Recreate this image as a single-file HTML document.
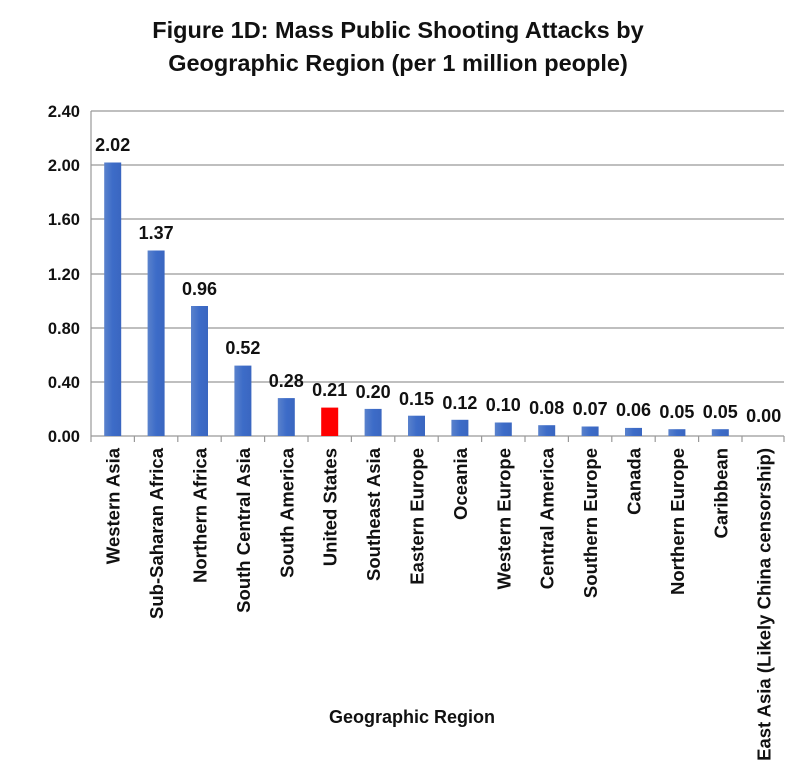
<!DOCTYPE html>
<html><head><style>body{margin:0;background:#fff}svg text{font-family:"Liberation Sans",sans-serif;font-weight:bold;fill:#111}</style></head>
<body>
<svg width="791" height="767" xmlns="http://www.w3.org/2000/svg">
<defs><linearGradient id="g" x1="0" x2="1"><stop offset="0" stop-color="#5a82cc"/><stop offset="0.5" stop-color="#3d6cc8"/><stop offset="1" stop-color="#3a66c0"/></linearGradient></defs>
<text x="398" y="38" font-size="23.5" text-anchor="middle">Figure 1D:  Mass Public Shooting Attacks by</text>
<text x="398" y="71" font-size="23.5" text-anchor="middle">Geographic Region (per 1 million people)</text>
<g stroke="#999" stroke-width="1.2">
<line x1="91" y1="111" x2="784" y2="111"/><line x1="91" y1="165" x2="784" y2="165"/><line x1="91" y1="219" x2="784" y2="219"/><line x1="91" y1="274" x2="784" y2="274"/><line x1="91" y1="328" x2="784" y2="328"/><line x1="91" y1="382" x2="784" y2="382"/><line x1="91" y1="436" x2="784" y2="436"/>
<line x1="91" y1="111" x2="91" y2="442"/>
<line x1="134.4" y1="436" x2="134.4" y2="442"/><line x1="177.8" y1="436" x2="177.8" y2="442"/><line x1="221.2" y1="436" x2="221.2" y2="442"/><line x1="264.6" y1="436" x2="264.6" y2="442"/><line x1="308" y1="436" x2="308" y2="442"/><line x1="351.4" y1="436" x2="351.4" y2="442"/><line x1="394.8" y1="436" x2="394.8" y2="442"/><line x1="438.2" y1="436" x2="438.2" y2="442"/><line x1="481.6" y1="436" x2="481.6" y2="442"/><line x1="525" y1="436" x2="525" y2="442"/><line x1="568.4" y1="436" x2="568.4" y2="442"/><line x1="611.8" y1="436" x2="611.8" y2="442"/><line x1="655.2" y1="436" x2="655.2" y2="442"/><line x1="698.6" y1="436" x2="698.6" y2="442"/><line x1="742" y1="436" x2="742" y2="442"/><line x1="784" y1="436" x2="784" y2="442"/>
</g>
<g font-size="16.5" text-anchor="end">
<text x="80" y="117">2.40</text><text x="80" y="171">2.00</text><text x="80" y="225">1.60</text><text x="80" y="280">1.20</text><text x="80" y="334">0.80</text><text x="80" y="388">0.40</text><text x="80" y="442">0.00</text>
</g>
<g fill="url(#g)">
<rect x="104.2" y="162.5" width="17" height="273.5"/>
<rect x="147.6" y="250.5" width="17" height="185.5"/>
<rect x="191" y="306" width="17" height="130"/>
<rect x="234.4" y="365.6" width="17" height="70.4"/>
<rect x="277.8" y="398.1" width="17" height="37.9"/>
<rect x="321.2" y="407.6" width="17" height="28.4" fill="#f00"/>
<rect x="364.6" y="408.9" width="17" height="27.1"/>
<rect x="408" y="415.7" width="17" height="20.3"/>
<rect x="451.4" y="419.8" width="17" height="16.2"/>
<rect x="494.8" y="422.5" width="17" height="13.5"/>
<rect x="538.2" y="425.2" width="17" height="10.8"/>
<rect x="581.6" y="426.5" width="17" height="9.5"/>
<rect x="625" y="427.9" width="17" height="8.1"/>
<rect x="668.4" y="429.2" width="17" height="6.8"/>
<rect x="711.8" y="429.2" width="17" height="6.8"/>
</g>
<g font-size="18" text-anchor="middle">
<text x="112.7" y="151">2.02</text>
<text x="156.1" y="239">1.37</text>
<text x="199.5" y="295">0.96</text>
<text x="242.9" y="354">0.52</text>
<text x="286.3" y="387">0.28</text>
<text x="329.7" y="396">0.21</text>
<text x="373.1" y="398">0.20</text>
<text x="416.5" y="405">0.15</text>
<text x="459.9" y="409">0.12</text>
<text x="503.3" y="411">0.10</text>
<text x="546.7" y="414">0.08</text>
<text x="590.1" y="415">0.07</text>
<text x="633.5" y="416">0.06</text>
<text x="676.9" y="418">0.05</text>
<text x="720.3" y="418">0.05</text>
<text x="763.7" y="422">0.00</text>
</g>
<g font-size="18.5" text-anchor="end">
<text transform="translate(119.7,448) rotate(-90)">Western Asia</text>
<text transform="translate(163.1,448) rotate(-90)">Sub-Saharan Africa</text>
<text transform="translate(206.5,448) rotate(-90)">Northern Africa</text>
<text transform="translate(249.9,448) rotate(-90)">South Central Asia</text>
<text transform="translate(293.3,448) rotate(-90)">South America</text>
<text transform="translate(336.7,448) rotate(-90)">United States</text>
<text transform="translate(380.1,448) rotate(-90)">Southeast Asia</text>
<text transform="translate(423.5,448) rotate(-90)">Eastern Europe</text>
<text transform="translate(466.9,448) rotate(-90)">Oceania</text>
<text transform="translate(510.3,448) rotate(-90)">Western Europe</text>
<text transform="translate(553.7,448) rotate(-90)">Central America</text>
<text transform="translate(597.1,448) rotate(-90)">Southern Europe</text>
<text transform="translate(640.5,448) rotate(-90)">Canada</text>
<text transform="translate(683.9,448) rotate(-90)">Northern Europe</text>
<text transform="translate(727.3,448) rotate(-90)">Caribbean</text>
<text transform="translate(770.7,448) rotate(-90)">East Asia (Likely China censorship)</text>
</g>
<text x="412" y="723" font-size="18" text-anchor="middle">Geographic Region</text>
</svg>
</body></html>
